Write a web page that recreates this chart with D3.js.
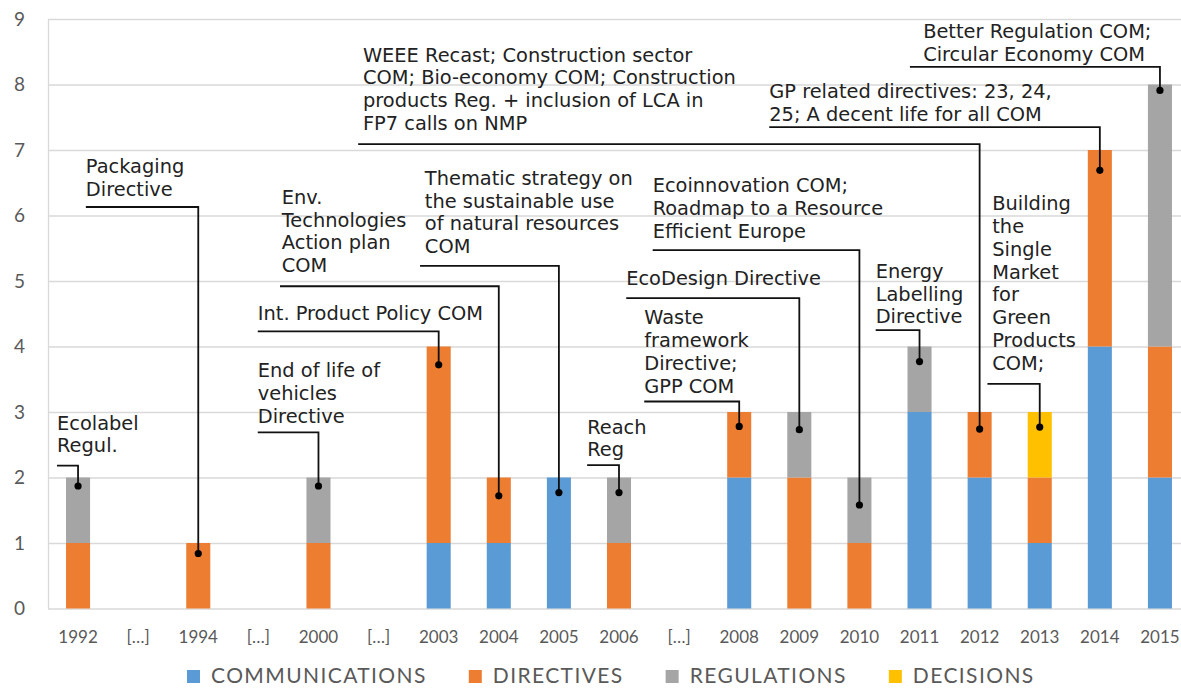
<!DOCTYPE html>
<html>
<head>
<meta charset="utf-8">
<script src="https://cdn.jsdelivr.net/npm/d3@7"></script>
<style>
  body { margin: 0; background: #fff; }
  .axis text { font-family: Lato, "Open Sans", sans-serif; fill: #595959; }
  .note text { font-family: "DejaVu Sans", Verdana, sans-serif; font-size: 19.4px; fill: #222; }
</style>
</head>
<body>
<div id="chart"></div>
<script>
/* DATA */
const categories = ["1992", "[…]", "1994", "[…]", "2000", "[…]", "2003", "2004", "2005", "2006",
  "[…]", "2008", "2009", "2010", "2011", "2012", "2013", "2014", "2015"];
const communications = [0, 0, 0, 0, 0, 0, 1, 1, 2, 0, 0, 2, 0, 0, 3, 2, 1, 4, 2];
const directives     = [1, 0, 1, 0, 1, 0, 3, 1, 0, 1, 0, 1, 2, 1, 0, 1, 1, 3, 2];
const regulations    = [1, 0, 0, 0, 1, 0, 0, 0, 0, 1, 0, 0, 1, 1, 1, 0, 0, 0, 4];
const decisions      = [0, 0, 0, 0, 0, 0, 0, 0, 0, 0, 0, 0, 0, 0, 0, 0, 1, 0, 0];
const seriesNames = ["COMMUNICATIONS", "DIRECTIVES", "REGULATIONS", "DECISIONS"];
const yTicks = [0, 1, 2, 3, 4, 5, 6, 7, 8, 9];

// annotations: bar index + value of the dot, text anchor (band units / value), underline value
const notes = [
  { lines: ["Ecolabel", "Regul."], bar: 0, dot: 1.87, tx: 0.15, ty: 2.73, uy: 2.18 },
  { lines: ["Packaging", "Directive"], bar: 2, dot: 0.84, tx: 0.63, ty: 6.65, uy: 6.13 },
  { lines: ["Env.", "Technologies", "Action plan", "COM"], bar: 7, dot: 1.72, tx: 3.89, ty: 6.18, uy: 4.92, ux: 3.86 },
  { lines: ["Int. Product Policy COM"], bar: 6, dot: 3.72, tx: 3.49, ty: 4.41, uy: 4.23 },
  { lines: ["End of life of", "vehicles", "Directive"], bar: 4, dot: 1.87, tx: 3.49, ty: 3.53, uy: 2.69 },
  { lines: ["Thematic strategy on", "the sustainable use", "of natural resources", "COM"], bar: 8, dot: 1.77, tx: 6.27, ty: 6.47, uy: 5.23, ux: 6.19 },
  { lines: ["WEEE Recast; Construction sector", "COM; Bio-economy COM; Construction", "products Reg. + inclusion of LCA in", "FP7 calls on NMP"], bar: 15, dot: 2.74, tx: 5.24, ty: 8.35, uy: 7.09, ux: 5.16 },
  { lines: ["GP related directives: 23, 24,", "25; A decent life for all COM"], bar: 17, dot: 6.69, tx: 12.0, ty: 7.79, uy: 7.35 },
  { lines: ["Better Regulation COM;", "Circular Economy COM"], bar: 18, dot: 7.91, tx: 14.56, ty: 8.71, uy: 8.27, ux: 14.34 },
  { lines: ["Ecoinnovation COM;", "Roadmap to a Resource", "Efficient Europe"], bar: 13, dot: 1.58, tx: 10.06, ty: 6.36, uy: 5.47 },
  { lines: ["EcoDesign Directive"], bar: 12, dot: 2.73, tx: 9.62, ty: 4.94, uy: 4.74 },
  { lines: ["Waste", "framework", "Directive;", "GPP COM"], bar: 11, dot: 2.78, tx: 9.92, ty: 4.34, uy: 3.16 },
  { lines: ["Reach", "Reg"], bar: 9, dot: 1.77, tx: 8.97, ty: 2.67, uy: 2.19 },
  { lines: ["Energy", "Labelling", "Directive"], bar: 14, dot: 3.77, tx: 13.77, ty: 5.05, uy: 4.25 },
  { lines: ["Building", "the", "Single", "Market", "for", "Green", "Products", "COM;"], bar: 16, dot: 2.77, tx: 15.71, ty: 6.08, uy: 3.43, ux: 15.63 }
];

/* CONSTANTS */
const width = 1181,
  height = 692,
  plot = { left: 48, right: 1190, top: 19, bottom: 608.5 },
  colors = ["#5b9bd5", "#ed7d31", "#a5a5a5", "#ffc000"],
  lineGap = 22.8;

const rows = categories.map((c, i) => ({
  i: i,
  communications: communications[i],
  directives: directives[i],
  regulations: regulations[i],
  decisions: decisions[i]
}));
const keys = ["communications", "directives", "regulations", "decisions"];
const stacked = d3.stack().keys(keys)(rows);

const xScale = d3.scaleBand()
  .domain(d3.range(categories.length))
  .range([plot.left, plot.right])
  .paddingInner(0.6)
  .paddingOuter(0.3);

// continuous position in band units, for annotation text
const xPos = d3.scaleLinear().domain([0, categories.length]).range([plot.left, plot.right]);

const yScale = d3.scaleLinear().domain([0, 9]).range([plot.bottom, plot.top]);

const svg = d3.select("#chart").append("svg")
  .attr("width", width)
  .attr("height", height);

// y axis + gridlines
const yAxis = svg.append("g")
  .attr("class", "axis y-axis")
  .attr("transform", `translate(${plot.left},0)`)
  .call(d3.axisLeft(yScale).tickValues(yTicks).tickSize(-(plot.right - plot.left)).tickSizeOuter(0).tickPadding(23));
yAxis.selectAll("line").attr("stroke", "#d9d9d9").attr("stroke-width", 1.3);
yAxis.select(".domain").attr("stroke", "#d9d9d9").attr("stroke-width", 1.3);
yAxis.selectAll("text").attr("font-size", 19);

// x axis labels
const xAxis = svg.append("g")
  .attr("class", "axis x-axis")
  .attr("transform", `translate(0,${plot.bottom})`)
  .call(d3.axisBottom(xScale).tickSize(0).tickPadding(22.5).tickFormat(i => categories[i]));
xAxis.select(".domain").remove();
xAxis.selectAll("text").attr("font-size", 17);

// bars
svg.append("g")
  .selectAll("g")
  .data(stacked)
  .join("g")
  .attr("fill", (d, k) => colors[k])
  .selectAll("rect")
  .data(d => d.filter(s => s[1] > s[0]))
  .join("rect")
  .attr("x", d => xScale(d.data.i))
  .attr("width", xScale.bandwidth())
  .attr("y", d => yScale(d[1]))
  .attr("height", d => yScale(d[0]) - yScale(d[1]));

// annotations
const note = svg.append("g")
  .attr("class", "note")
  .selectAll("g")
  .data(notes)
  .join("g");

note.append("text")
  .attr("x", d => xPos(d.tx))
  .attr("y", d => yScale(d.ty))
  .selectAll("tspan")
  .data(d => d.lines.map((l, j) => ({ l, j, x: xPos(d.tx) })))
  .join("tspan")
  .attr("x", d => d.x)
  .attr("dy", d => (d.j === 0 ? 0 : lineGap))
  .text(d => d.l);

note.append("path")
  .attr("fill", "none")
  .attr("stroke", "#111")
  .attr("stroke-width", 1.8)
  .attr("d", d => {
    const cx = xScale(d.bar) + xScale.bandwidth() / 2;
    const sx = xPos(d.ux !== undefined ? d.ux : d.tx);
    return `M${sx},${yScale(d.uy)}H${cx}V${yScale(d.dot)}`;
  });

note.append("circle")
  .attr("cx", d => xScale(d.bar) + xScale.bandwidth() / 2)
  .attr("cy", d => yScale(d.dot))
  .attr("r", 3.6)
  .attr("fill", "#000");

// legend
const legend = svg.append("g").attr("class", "axis legend");
let lx = 187;
seriesNames.forEach((name, k) => {
  legend.append("rect")
    .attr("x", lx)
    .attr("y", 670)
    .attr("width", 13)
    .attr("height", 13)
    .attr("fill", colors[k]);
  const t = legend.append("text")
    .attr("x", lx + 24)
    .attr("y", 683)
    .attr("font-size", 21)
    .attr("letter-spacing", 1.4)
    .text(name);
  lx += 24 + t.node().getComputedTextLength() + 42;
});
</script>
</body>
</html>
